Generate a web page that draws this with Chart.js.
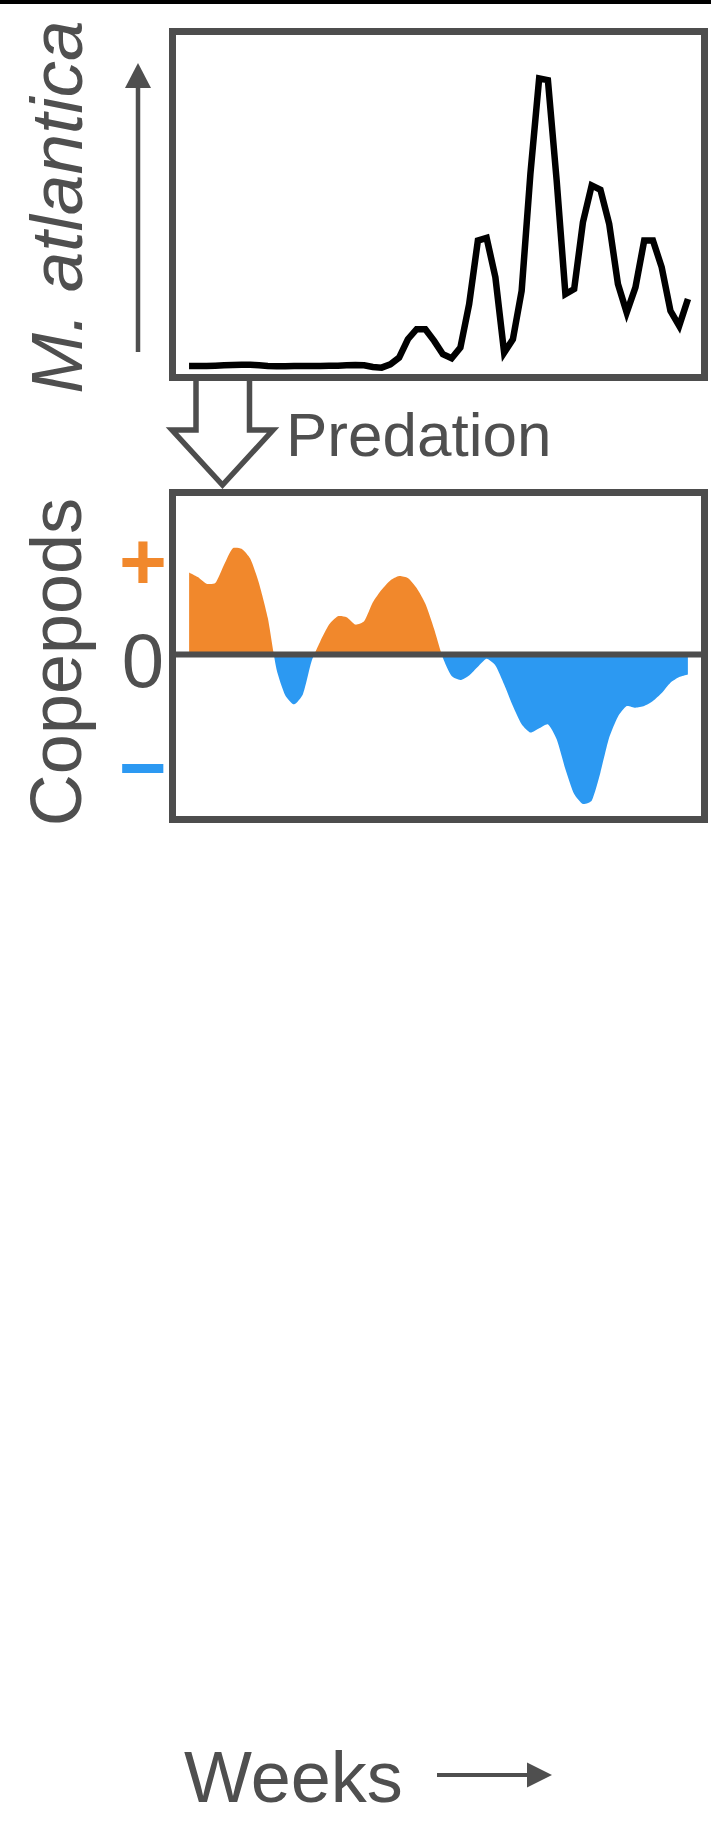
<!DOCTYPE html>
<html lang="en">

<head>
    <meta charset="UTF-8">
    <title>M. atlantica vs copepods</title>
    <script src="https://cdn.jsdelivr.net/npm/chart.js@4.4.0/dist/chart.umd.min.js"></script>
    <style>
        body {
            margin: 0;
            width: 711px;
            height: 1823px;
            background: #fff;
            position: relative;
            overflow: hidden;
            font-family: "Liberation Sans", Arial, Helvetica, sans-serif;
            color: #4f4f4f;
        }

        .box {
            position: absolute;
        }

        .txt {
            position: absolute;
            white-space: nowrap;
        }

        .ylab {
            position: absolute;
            font-size: 72px;
            line-height: 72px;
            white-space: nowrap;
            transform: translate(-50%, -50%) rotate(-90deg);
        }
    </style>
</head>

<body>
    <div style="position:absolute;left:0;top:0;width:711px;height:4px;background:#000"></div>

    <div class="ylab" style="left:57px;top:207px;font-style:italic;font-size:73px">M. atlantica</div>
    <div class="ylab" style="left:56px;top:662px">Copepods</div>

    <div class="txt" style="left:112px;top:520px;width:62px;text-align:center;font-size:82px;line-height:82px;font-weight:bold;color:#f1882c">+</div>
    <div class="txt" style="left:112px;top:623px;width:62px;text-align:center;font-size:76px;line-height:76px">0</div>
    <div class="txt" style="left:112px;top:727px;width:62px;text-align:center;font-size:82px;line-height:82px;font-weight:bold;color:#2c99f2">−</div>

    <div class="txt" style="left:286px;top:404px;font-size:62px;line-height:62px">Predation</div>
    <div class="txt" style="left:184px;top:1741px;font-size:72px;line-height:72px">Weeks</div>

    <svg width="711" height="1823" style="position:absolute;left:0;top:0">
        <!-- arrow next to M. atlantica -->
        <line x1="138" y1="352" x2="138" y2="84" stroke="#4f4f4f" stroke-width="4.5" />
        <polygon points="125,88 151,88 138,63" fill="#4f4f4f" />
        <!-- hollow predation arrow -->
        <polyline points="196,378 196,430 172,430 222.5,485 273,430 249.5,430 249.5,378" fill="#fff"
            stroke="#4d4d4d" stroke-width="5.5" stroke-linejoin="miter" />
        <!-- weeks arrow -->
        <line x1="437" y1="1775" x2="530" y2="1775" stroke="#4f4f4f" stroke-width="4" />
        <polygon points="527,1762.5 552,1775 527,1787.5" fill="#4f4f4f" />
    </svg>

    <div class="box" style="left:169px;top:28px;width:539px;height:353px">
        <canvas id="top" width="539" height="353"></canvas>
    </div>
    <div class="box" style="left:169px;top:489px;width:539px;height:334px">
        <canvas id="bottom" width="539" height="334"></canvas>
    </div>

    <script>
        // week numbers
        const weeks = [1, 2, 3, 4, 5, 6, 7, 8, 9, 10, 11, 12, 13, 14, 15, 16, 17, 18, 19, 20,
            21, 22, 23, 24, 25, 26, 27, 28, 29, 30, 31, 32, 33, 34, 35, 36, 37, 38, 39, 40,
            41, 42, 43, 44, 45, 46, 47, 48, 49, 50, 51, 52, 53, 54, 55, 56, 57, 58];

        // M. atlantica abundance (arbitrary units)
        const atlantica = [1.0, 1.0, 1.0, 1.1, 1.2, 1.3, 1.4, 1.4, 1.2, 1.0,
            0.9, 0.9, 1.0, 1.0, 1.0, 1.0, 1.1, 1.1, 1.2, 1.3,
            1.2, 0.7, 0.5, 1.5, 3.5, 9, 12, 12, 8.5, 4.5,
            3.3, 6.5, 19.5, 38.5, 39.3, 27.5, 5, 9, 23.5, 58.5,
            87, 86.5, 56.5, 22.5, 24, 44, 55, 53.7, 43.5, 25.5,
            17, 24.5, 38.5, 38.5, 30.5, 17.5, 13, 21];

        // copepod anomaly (+ above 0, - below)
        const copepods = [24.7, 23.3, 21.3, 21.5, 27, 32, 31.8, 28.8, 21.4, 11,
            -4.5, -12.3, -15, -12, -2, 4, 9, 11.5, 11.2, 9,
            10, 15.7, 19.5, 22.3, 23.6, 23, 20, 15.3, 7.7, -1,
            -6.5, -7.7, -6.3, -3.7, -1.3, -3.3, -9, -15.5, -21, -23.5,
            -22.2, -21, -25.5, -34.5, -42, -45, -44, -35.5, -25, -18.7,
            -15.5, -16, -15.5, -14, -11.6, -8.5, -6.8, -6];

        // frame around the plot area and the zero line
        const frame = {
            id: 'frame',
            afterDatasetsDraw(chart, args, opts) {
                const ctx = chart.ctx;
                const a = chart.chartArea;
                ctx.save();
                ctx.strokeStyle = '#4d4d4d';
                if (opts.zero) {
                    const y0 = chart.scales.y.getPixelForValue(0);
                    ctx.lineWidth = 6;
                    ctx.beginPath();
                    ctx.moveTo(a.left, y0);
                    ctx.lineTo(a.right, y0);
                    ctx.stroke();
                }
                ctx.lineWidth = 7;
                ctx.strokeRect(a.left - 3.5, a.top - 3.5, a.right - a.left + 7, a.bottom - a.top + 7);
                ctx.restore();
            }
        };

        function baseOptions(ymin, ymax, zero) {
            return {
                responsive: false,
                animation: false,
                layout: { padding: 7 },
                plugins: {
                    legend: { display: false },
                    tooltip: { enabled: false },
                    frame: { zero: zero }
                },
                scales: {
                    x: { type: 'linear', display: false, min: -0.49, max: 59.49 },
                    y: { display: false, min: ymin, max: ymax }
                }
            };
        }

        new Chart(document.getElementById('top'), {
            type: 'line',
            data: {
                datasets: [{
                    data: weeks.map((w, i) => ({ x: w, y: atlantica[i] })),
                    borderColor: '#000',
                    borderWidth: 6.5,
                    pointRadius: 0,
                    tension: 0,
                    fill: false
                }]
            },
            options: baseOptions(-1.4, 100, false),
            plugins: [frame]
        });

        new Chart(document.getElementById('bottom'), {
            type: 'line',
            data: {
                datasets: [{
                    data: weeks.map((w, i) => ({ x: w, y: copepods[i] })),
                    borderWidth: 0,
                    borderColor: 'rgba(0,0,0,0)',
                    pointRadius: 0,
                    tension: 0.2,
                    fill: { target: 'origin', above: '#f1882c', below: '#2c99f2' }
                }]
            },
            options: baseOptions(-48.6, 47.7, true),
            plugins: [frame]
        });
    </script>
</body>

</html>
